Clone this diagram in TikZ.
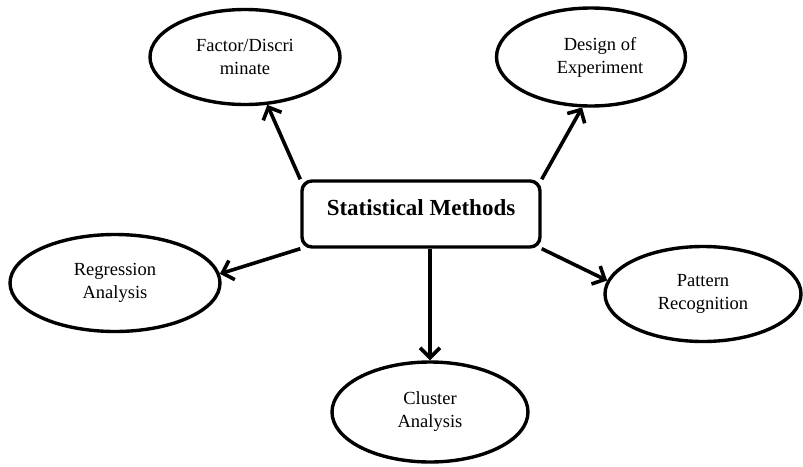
\documentclass[tikz,border=0pt]{standalone}
\usepackage{fontspec}
\setmainfont{Liberation Serif}
\usetikzlibrary{arrows.meta,shapes.geometric}

\begin{document}
\begin{tikzpicture}[x=1pt, y=-1pt,
		bubble/.style={draw, ellipse, line width=3.4pt, inner sep=0pt, align=center,
			minimum height=95pt, font=\fontsize{18.5}{23}\selectfont},
		hub/.style={draw, rounded corners=10pt, line width=3.4pt, minimum width=238pt,
			minimum height=66pt, text height=16pt, text depth=14pt,
			font=\fontsize{23}{28}\selectfont\bfseries},
		arr/.style={line width=3.6pt, -{Straight Barb[length=10pt,width=20pt]}}]
			%%%%% START %%%%%
			\useasboundingbox (0, 0) rectangle (803, 466);
			
			\node[hub] (stat) at (421, 214) {Statistical Methods};
			
			\node[bubble, minimum width=190pt] (fact) at (245, 57) {Factor/Discri\\minate};
			\node[bubble, minimum width=189pt, minimum height=98pt] (des) at (591, 57) {\hspace*{18pt}Design of\\\hspace*{18pt}Experiment};
			\node[bubble, minimum width=210pt, minimum height=97pt] (reg) at (115, 283) {Regression\\Analysis};
			\node[bubble, minimum width=196pt] (pat) at (703, 294) {Pattern\\Recognition};
			\node[bubble, minimum width=196pt, minimum height=100pt] (clu) at (430, 412) {Cluster\\Analysis};
			
			\draw[arr] (stat.north west) -- (fact.295);
			\draw[arr] (stat.north east) -- (des.260);
			\draw[arr] (stat.south west) -- (reg.5);
			\draw[arr] (stat.south east) -- (pat.172);
			\draw[arr] (stat.south -| clu.north) -- (clu.north);
			
			%%%%% END %%%%%
		\end{tikzpicture}
\end{document}
